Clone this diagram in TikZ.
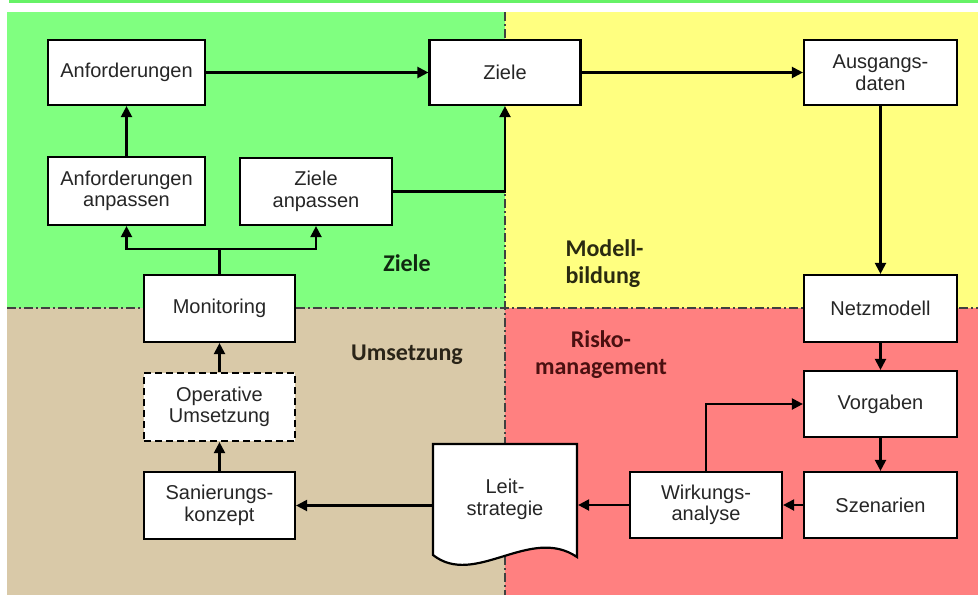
\documentclass[tikz,border=0pt]{standalone}
\usepackage{fontspec}
\setmainfont{Liberation Sans}
\newfontfamily\labfont{Carlito}
\usetikzlibrary{arrows.meta}
\definecolor{qgreen}{HTML}{80FF80}
\definecolor{qyellow}{HTML}{FFFF80}
\definecolor{qbeige}{HTML}{D9C9A8}
\definecolor{qred}{HTML}{FF8080}
\definecolor{topbar}{HTML}{66F266}
\definecolor{boxtext}{HTML}{262626}
\definecolor{divline}{HTML}{404040}
\definecolor{zieltext}{HTML}{102810}
\definecolor{modtext}{HTML}{2A2A10}
\definecolor{umstext}{HTML}{2A2418}
\definecolor{risktext}{HTML}{4A1010}
\tikzset{
  box/.style={draw=black, fill=white, line width=2.2pt, inner sep=0pt,
    minimum width=152pt, minimum height=66pt, align=center,
    font=\fontsize{20}{21.5}\selectfont, text=boxtext},
  arr/.style={line width=2.2pt, -{Triangle[length=11pt,width=11pt]}},
  ln/.style={line width=2.2pt},
  lab/.style={font=\labfont\bfseries\fontsize{24}{27}\selectfont, align=center},
  divider/.style={draw=divline, line width=1.3pt, dash pattern=on 9pt off 3pt on 2pt off 3pt}
}
\begin{document}
\begin{tikzpicture}[x=1pt,y=-1pt]
\useasboundingbox (0,0) rectangle (978,595);
\fill[white] (0,0) rectangle (978,595);
\fill[topbar] (9,0) rectangle (978,2.5);
% quadrants
\fill[qgreen] (7,12) rectangle (505,308);
\fill[qyellow] (505,12) rectangle (978,308);
\fill[qbeige] (7,308) rectangle (505,595);
\fill[qred] (505,308) rectangle (978,595);
\draw[divider] (505,12) -- (505,595);
\draw[divider] (7,308) -- (978,308);
% labels
\node[lab, text=zieltext] (lz) at (407,263) {Ziele};
\node[lab, text=modtext, align=left, anchor=west] (lm) at (562,264) {Modell-\\bildung};
\node[lab, text=umstext] (lu) at (407,355) {Umsetzung};
\node[lab, text=risktext] (lr) at (601,355) {Risko-\\management};
% boxes
\node[box, minimum width=157pt, minimum height=65pt] (anf) at (126.5,72.5) {Anforderungen};
\node[box, minimum width=157pt, minimum height=68pt] (anfa) at (126.5,191) {Anforderungen\\anpassen};
\node[box, minimum height=67pt] (zan) at (316,191.5) {Ziele\\anpassen};
\node[box, minimum width=151pt, minimum height=67pt] (mon) at (219.5,308.5) {Monitoring};
\node[box, dashed, dash pattern=on 7pt off 4pt, minimum width=151pt, minimum height=68pt] (ops) at (219.5,407) {Operative\\Umsetzung};
\node[box, minimum width=151pt, minimum height=67pt] (san) at (219.5,505.5) {Sanierungs-\\konzept};
\node[box, minimum width=151pt, minimum height=65pt] (ziele) at (505,72.5) {Ziele};
\node[box, minimum width=153pt, minimum height=65pt] (aus) at (880.5,72.5) {Ausgangs-\\daten};
\node[box, minimum width=153pt, minimum height=67pt] (netz) at (880.5,308.5) {Netzmodell};
\node[box, minimum width=153pt] (vorg) at (880.5,404) {Vorgaben};
\node[box, minimum width=153pt] (szen) at (880.5,505) {Szenarien};
\node[box] (wirk) at (706,505) {Wirkungs-\\analyse};
% document shape
\draw[ln, fill=white] (433,444) -- (577,444) -- (577,557)
  .. controls (530,525) and (475,588) .. (433,555) -- cycle;
\node[box, draw=none, fill=none, minimum width=144pt, minimum height=111pt] (leit) at (505,499.5) {Leit-\\strategie};
% connectors
\coordinate (sp) at (219.5,249);
\draw[arr] (anf) -- (ziele);
\draw[arr] (anfa) -- (anf);
\draw[arr] (zan.east) -| (ziele.south);
\draw[ln] (mon.north) -- (sp);
\draw[arr] (sp) -| (anfa.south);
\draw[arr] (sp) -| (zan.south);
\draw[arr] (ziele) -- (aus);
\draw[arr] (aus) -- (netz);
\draw[arr] (netz) -- (vorg);
\draw[arr] (vorg) -- (szen);
\draw[arr] (szen) -- (wirk);
\draw[arr] (wirk.north) |- (vorg.west);
\draw[arr] (wirk.west) -- (wirk.west -| leit.east);
\draw[arr] (leit.west |- san.east) -- (san.east);
\draw[arr] (san) -- (ops);
\draw[arr] (ops) -- (mon);
\end{tikzpicture}
\end{document}
